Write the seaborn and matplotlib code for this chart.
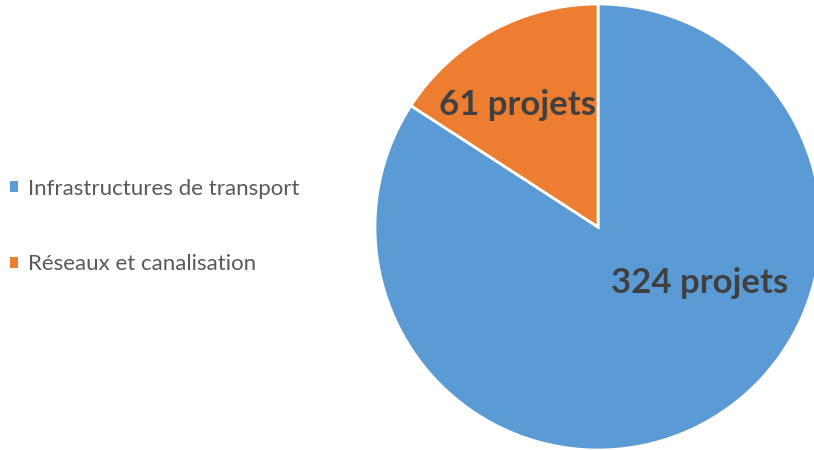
import matplotlib
matplotlib.use("Agg")
import matplotlib.pyplot as plt
import seaborn as sns

# Data
categories = ["Infrastructures de transport", "Réseaux et canalisation"]
project_counts = [324, 61]
value_labels = ["324 projets", "61 projets"]
colors = ["#5B9BD5", "#ED7D31"]

sns.set_theme(style="white")
plt.rcParams["font.family"] = ["Lato", "DejaVu Sans"]

fig = plt.figure(figsize=(8.14, 4.5), dpi=100)

# pie centred at (598, 227) px with radius ~223 px
cx, cy, r = 598, 227, 223
W, H = 814, 450
ax = fig.add_axes([(cx - r) / W, (H - cy - r) / H, 2 * r / W, 2 * r / H])

wedges, _ = ax.pie(
    project_counts,
    colors=colors,
    startangle=90,
    counterclock=False,
    radius=1,
    wedgeprops=dict(edgecolor="white", linewidth=2),
)
ax.set_xlim(-1, 1)
ax.set_ylim(-1, 1)
ax.set_aspect("equal")
ax.axis("off")

# value labels
label_pos = [(0.455, -0.25), (-0.36, 0.545)]
for txt, (x, y) in zip(value_labels, label_pos):
    ax.text(x, y, txt, ha="center", va="center", fontsize=25,
            fontweight="bold", color="#404040")

leg = fig.legend(
    wedges,
    categories,
    loc="center left",
    bbox_to_anchor=(0.012, 0.497),
    frameon=False,
    borderpad=0,
    borderaxespad=0,
    fontsize=16,
    handlelength=0.38,
    handleheight=0.38,
    handletextpad=0.45,
    labelspacing=2.5,
)
for t in leg.get_texts():
    t.set_color("#595959")
for h in leg.legend_handles:
    h.set_edgecolor("none")

fig.savefig("out.png", dpi=100)
